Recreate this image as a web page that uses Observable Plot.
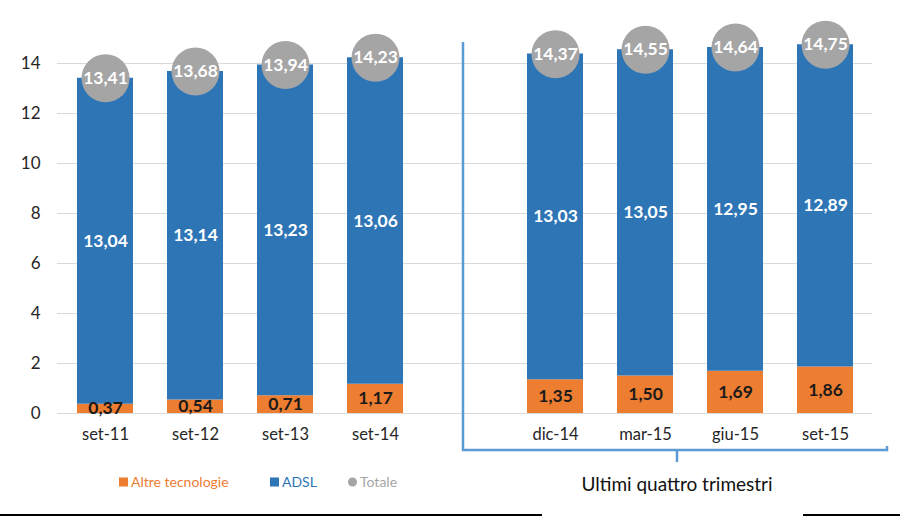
<!DOCTYPE html>
<html>
<head>
<meta charset="utf-8">
<script src="https://cdn.jsdelivr.net/npm/d3@7"></script>
<script src="https://cdn.jsdelivr.net/npm/@observablehq/plot@0.6"></script>
<style>
  html, body { margin: 0; padding: 0; background: #fff; }
  #chart { width: 900px; height: 516px; }
  svg { font-family: Lato, "Open Sans", sans-serif; }
</style>
</head>
<body>
<div id="chart"></div>
<script>
const categories = ["set-11", "set-12", "set-13", "set-14", "dic-14", "mar-15", "giu-15", "set-15"];
const altre = [0.37, 0.54, 0.71, 1.17, 1.35, 1.50, 1.69, 1.86];
const adsl = [13.04, 13.14, 13.23, 13.06, 13.03, 13.05, 12.95, 12.89];
const totale = [13.41, 13.68, 13.94, 14.23, 14.37, 14.55, 14.64, 14.75];
const seriesNames = ["Altre tecnologie", "ADSL", "Totale"];
const seriesColors = ["#ed7d31", "#2e75b6", "#a5a5a5"];
const yTicks = [0, 2, 4, 6, 8, 10, 12, 14];
const groupLabel = "Ultimi quattro trimestri";

const gap = " ";
const xDomain = [...categories.slice(0, 4), gap, ...categories.slice(4)];
const fmt = v => v.toFixed(2).replace(".", ",");

const long = [];
categories.forEach((c, i) => {
  long.push({cat: c, series: seriesNames[0], value: altre[i]});
  long.push({cat: c, series: seriesNames[1], value: adsl[i]});
});
const totals = categories.map((c, i) => ({cat: c, value: totale[i]}));

const W = 900, H = 516;
const plot = Plot.plot({
  width: W, height: H,
  marginLeft: 57, marginRight: 28, marginTop: 63, marginBottom: 103,
  style: {fontFamily: "Lato, 'Open Sans', sans-serif", background: "#fff"},
  x: {domain: xDomain, paddingInner: 0.38, paddingOuter: 0.19, label: null},
  y: {domain: [0, 14], label: null},
  color: {domain: seriesNames, range: seriesColors},
  marks: [
    Plot.gridY(yTicks, {stroke: "#d9d9d9", strokeOpacity: 1, strokeWidth: 1}),
    Plot.axisY(yTicks, {tickSize: 0, tickPadding: 17, fontSize: 17, fill: "#262626", label: null}),
    Plot.axisX(categories, {tickSize: 0, tickPadding: 15, fontSize: 16.5, fill: "#262626", label: null}),
    Plot.barY(long, {x: "cat", y: "value", fill: "series", order: seriesNames}),
    Plot.text(long, Plot.stackY({
      x: "cat", y: "value", order: seriesNames,
      text: d => fmt(d.value),
      fill: d => d.series === seriesNames[0] ? "#1a1a1a" : "#ffffff",
      fontSize: 17.5, fontWeight: "bold"
    })),
    Plot.dot(totals, {x: "cat", y: "value", r: 24, fill: seriesColors[2], stroke: null}),
    Plot.text(totals, {x: "cat", y: "value", text: d => fmt(d.value), fill: "#ffffff", fontSize: 17.5, fontWeight: "bold"})
  ]
});
document.getElementById("chart").appendChild(plot);

const svg = d3.select(plot);
// Bracket annotation around last four quarters
const bx0 = 463, bx1 = 887, by = 450, btop = 42;
const bxMid = (bx0 + bx1) / 2 + 2;
const g = svg.append("g").attr("fill", "none").attr("stroke", "#5b9bd5").attr("stroke-width", 2.5);
g.append("path").attr("d", `M${bx0},${btop}V${by}H${bx1}V${by - 4}`);
g.append("path").attr("d", `M${bxMid},${by}V${by + 12}`);
svg.append("text").attr("x", bxMid).attr("y", 491).attr("text-anchor", "middle")
  .attr("font-size", 19).attr("fill", "#111").text(groupLabel);

// Legend
const leg = svg.append("g").attr("font-size", 14).attr("text-anchor", "start");
const items = [
  {name: seriesNames[0], color: seriesColors[0], x: 119, shape: "rect"},
  {name: seriesNames[1], color: seriesColors[1], x: 270, shape: "rect"},
  {name: seriesNames[2], color: seriesColors[2], x: 348, shape: "circle"}
];
items.forEach(it => {
  if (it.shape === "rect") {
    leg.append("rect").attr("x", it.x).attr("y", 477.5).attr("width", 9).attr("height", 9).attr("fill", it.color);
  } else {
    leg.append("circle").attr("cx", it.x + 4.5).attr("cy", 482).attr("r", 4.5).attr("fill", it.color);
  }
  leg.append("text").attr("x", it.x + 12).attr("y", 487).attr("text-anchor", "start").attr("fill", it.color).text(it.name);
});

// bottom border fragments
svg.append("path").attr("d", "M0,515H542M803,515H900").attr("stroke", "#000").attr("stroke-width", 2);
</script>
</body>
</html>
